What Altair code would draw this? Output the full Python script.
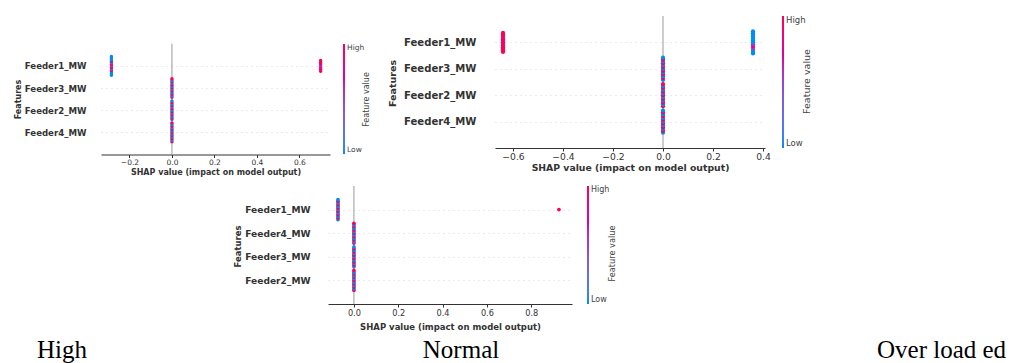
import altair as alt
import pandas as pd

# ---------------- data ----------------
P1_FEATURES = ["Feeder1_MW", "Feeder3_MW", "Feeder2_MW", "Feeder4_MW"]
P2_FEATURES = ["Feeder1_MW", "Feeder3_MW", "Feeder2_MW", "Feeder4_MW"]
P3_FEATURES = ["Feeder1_MW", "Feeder4_MW", "Feeder3_MW", "Feeder2_MW"]
CAPTIONS = ["High", "Normal", "Over load ed"]

# vertical stacking offsets of beeswarm dots (in row units)
TALL = [-0.42, -0.35, -0.28, -0.21, -0.14, -0.07, 0.0, 0.07, 0.14, 0.21, 0.28, 0.35, 0.42]
MID = [-0.36, -0.30, -0.24, -0.18, -0.12, -0.06, 0.0, 0.06, 0.12, 0.18, 0.24, 0.30, 0.36]
SHORT = [-0.24, -0.16, -0.08, 0.0, 0.08, 0.16, 0.24]
SINGLE = [0.0]
ALT_A = [0, 1, 0, 1, 0, 1, 0, 1, 0, 1, 0, 1, 0]
ALT_B = [1, 0, 1, 0, 1, 0, 1, 0, 1, 0, 1, 0, 1]

# panel "High"
P1_CL_FEATURE = ["Feeder1_MW", "Feeder1_MW", "Feeder3_MW", "Feeder2_MW", "Feeder4_MW"]
P1_CL_SHAP = [-0.285, 0.70, 0.0, 0.0, 0.0]
P1_CL_OFFSET = [TALL, SHORT, TALL, TALL, TALL]
P1_CL_VALUE = [[0, 0, 0, 1, 0, 1, 0.5, 1, 0, 1, 0, 0, 0], [1, 1, 0.75, 0.6, 0.75, 1, 1], ALT_B, ALT_A, ALT_B]
P1_XTICKS = [-0.2, 0.0, 0.2, 0.4, 0.6]

# panel "Normal"
P2_CL_FEATURE = ["Feeder1_MW", "Feeder1_MW", "Feeder3_MW", "Feeder2_MW", "Feeder4_MW"]
P2_CL_SHAP = [-0.64, 0.36, 0.0, 0.0, 0.0]
P2_CL_OFFSET = [MID, TALL, TALL, TALL, TALL]
P2_CL_VALUE = [[1, 1, 1, 1, 1, 0.85, 1, 0.85, 1, 0.85, 1, 1, 1],
               [0, 0, 0, 0.55, 0.8, 0.55, 0, 0, 0, 0, 0, 0, 0], ALT_A, ALT_B, ALT_A]
P2_XTICKS = [-0.6, -0.4, -0.2, 0.0, 0.2, 0.4]

# panel "Over loaded"
P3_CL_FEATURE = ["Feeder1_MW", "Feeder1_MW", "Feeder4_MW", "Feeder3_MW", "Feeder2_MW"]
P3_CL_SHAP = [-0.072, 0.925, 0.0, 0.0, 0.0]
P3_CL_OFFSET = [TALL, SINGLE, TALL, TALL, TALL]
P3_CL_VALUE = [ALT_A, [1], ALT_B, ALT_A, ALT_B]
P3_XTICKS = [0.0, 0.2, 0.4, 0.6, 0.8]

# ---------------- style ----------------
BLUE, MIDC, PINK = "#008bfb", "#9a3fd0", "#ff0052"
FONT = "DejaVu Sans"
TXT = "#333333"

P1_STYLE = dict(w=229, h=138.5, xdom=[-0.334, 0.744], ydom=[-1, 5.25],
                tick_fs=7.5, tick_pad=1, xt_fs=8, xt_y=18,
                lab_fs=8.6, lab_pad=15, yt_fs=8, yt_x=-83, yt_y=83,
                fv_fs=8, fv_x=36, fv_y=83,
                lx=242, ly=28, gl=110, lg_fs=7.5, dot=12)
P2_STYLE = dict(w=270, h=132, xdom=[-0.672, 0.408], ydom=[-1, 4],
                tick_fs=9.2, tick_pad=1, xt_fs=9.3, xt_y=19,
                lab_fs=10.1, lab_pad=19, yt_fs=9.5, yt_x=-103, yt_y=67,
                fv_fs=9.5, fv_x=41, fv_y=65,
                lx=287, ly=0, gl=132, lg_fs=8.5, dot=18)
P3_STYLE = dict(w=244, h=118, xdom=[-0.117, 0.984], ydom=[-1, 4],
                tick_fs=8.2, tick_pad=2, xt_fs=8.5, xt_y=22,
                lab_fs=9.1, lab_pad=18, yt_fs=8.5, yt_x=-91, yt_y=60,
                fv_fs=8.2, fv_x=40, fv_y=67,
                lx=259, ly=0, gl=118, lg_fs=8, dot=14)


def panel(features, cl_feat, cl_shap, cl_off, cl_val, xticks, st):
    n = len(features)
    rows = []
    for f, sx, offs, vals in zip(cl_feat, cl_shap, cl_off, cl_val):
        base = n - 1 - features.index(f)
        for o, v in zip(offs, vals):
            rows.append({"feature": f, "shap": sx, "pos": base + o, "value": v})
    pts = pd.DataFrame(rows)
    zero = pd.DataFrame({"shap": [0.0], "lo": [-1.0], "hi": [float(n)]})
    names = list(reversed(features))
    label_expr = "[" + ",".join("'%s'" % s for s in names) + "][datum.value]"

    xscale = alt.Scale(domain=st["xdom"], nice=False, zero=False)
    yscale = alt.Scale(domain=st["ydom"], nice=False, zero=False)
    xaxis = alt.Axis(values=xticks, format=".1f", title="SHAP value (impact on model output)",
                     grid=False, domainColor=TXT, domainWidth=1, tickColor=TXT, tickSize=3, tickWidth=1,
                     labelFont=FONT, labelFontSize=st["tick_fs"], labelColor=TXT,
                     labelPadding=st["tick_pad"],
                     titleFont=FONT, titleFontSize=st["xt_fs"], titleFontWeight="bold", titleColor=TXT,
                     titleY=st["xt_y"], titleBaseline="middle")
    yaxis_left = alt.Axis(values=list(range(n)), labelExpr=label_expr, title="Features",
                          domain=False, ticks=False, grid=True, gridColor="#cccccc",
                          gridDash=[1, 4], gridWidth=0.8,
                          labelFont=FONT, labelFontSize=st["lab_fs"], labelFontWeight="bold",
                          labelColor=TXT, labelPadding=st["lab_pad"],
                          titleFont=FONT, titleFontSize=st["yt_fs"], titleFontWeight="bold",
                          titleColor=TXT, titleAngle=270, titleAlign="center",
                          titleBaseline="middle", titleX=st["yt_x"], titleY=st["yt_y"])
    yaxis_right = alt.Axis(orient="right", title="Feature value", labels=False, ticks=False,
                           domain=False, grid=False,
                           titleFont=FONT, titleFontSize=st["fv_fs"], titleFontWeight="normal",
                           titleColor="#444444", titleAngle=270, titleAlign="center",
                           titleBaseline="middle", titleX=st["fv_x"], titleY=st["fv_y"])
    legend = alt.Legend(orient="none", legendX=st["lx"], legendY=st["ly"], direction="vertical",
                        gradientLength=st["gl"], gradientThickness=2, gradientStrokeWidth=0,
                        values=[0, 1], labelExpr="datum.value >= 1 ? 'High' : 'Low'",
                        labelBaseline="middle", labelOffset=2, labelOverlap=False,
                        labelFont=FONT, labelFontSize=st["lg_fs"], labelColor="#444444",
                        title=None, padding=0)

    rule = alt.Chart(zero).mark_rule(color="#999999", strokeWidth=1).encode(
        x=alt.X("shap:Q", scale=xscale, axis=xaxis),
        y=alt.Y("lo:Q", scale=yscale, axis=yaxis_right),
        y2="hi:Q",
    )
    dots = alt.Chart(pts).mark_circle(size=st["dot"], opacity=1).encode(
        x=alt.X("shap:Q", scale=xscale, axis=xaxis),
        y=alt.Y("pos:Q", scale=yscale, axis=yaxis_left),
        color=alt.Color("value:Q",
                        scale=alt.Scale(domain=[0, 0.5, 1], range=[BLUE, MIDC, PINK]),
                        legend=legend),
    )
    return alt.layer(rule, dots).resolve_axis(y="independent").properties(
        width=st["w"], height=st["h"])


p1 = panel(P1_FEATURES, P1_CL_FEATURE, P1_CL_SHAP, P1_CL_OFFSET, P1_CL_VALUE, P1_XTICKS, P1_STYLE)
p2 = panel(P2_FEATURES, P2_CL_FEATURE, P2_CL_SHAP, P2_CL_OFFSET, P2_CL_VALUE, P2_XTICKS, P2_STYLE)
p3 = panel(P3_FEATURES, P3_CL_FEATURE, P3_CL_SHAP, P3_CL_OFFSET, P3_CL_VALUE, P3_XTICKS, P3_STYLE)


def spacer(width):
    return alt.Chart(pd.DataFrame({"v": [0]})).mark_point(opacity=0, size=1).encode(
        x=alt.X("v:Q", axis=None), y=alt.Y("v:Q", axis=None)
    ).properties(width=width, height=1)


def caption(i, width, align, dx):
    return alt.Chart(pd.DataFrame({"caption": [CAPTIONS[i]]})).mark_text(
        font="Liberation Serif", fontSize=25, baseline="middle", align=align, dx=dx,
        color="black"
    ).encode(text="caption:N").properties(width=width, height=26)


def indep(c):
    return c.resolve_scale(color="independent").resolve_legend(color="independent")


top_pair = indep(alt.hconcat(p1, p2, spacing=17))
row1 = indep(alt.hconcat(spacer(4), top_pair, spacing=0))
row2 = indep(alt.hconcat(spacer(223), p3, spacing=0))
row3 = alt.hconcat(caption(0, 104, "center", 0), caption(1, 694, "center", 0),
                   caption(2, 200, "left", -31), spacing=0)
lower = indep(alt.vconcat(row2, row3, spacing=5.5))

chart = indep(alt.vconcat(row1, lower, spacing=8)).properties(
    padding={"left": 2, "top": 7, "right": 0, "bottom": 0}
).configure_view(stroke=None)

chart.save("out.html", embed_options={"renderer": "svg", "actions": False})
